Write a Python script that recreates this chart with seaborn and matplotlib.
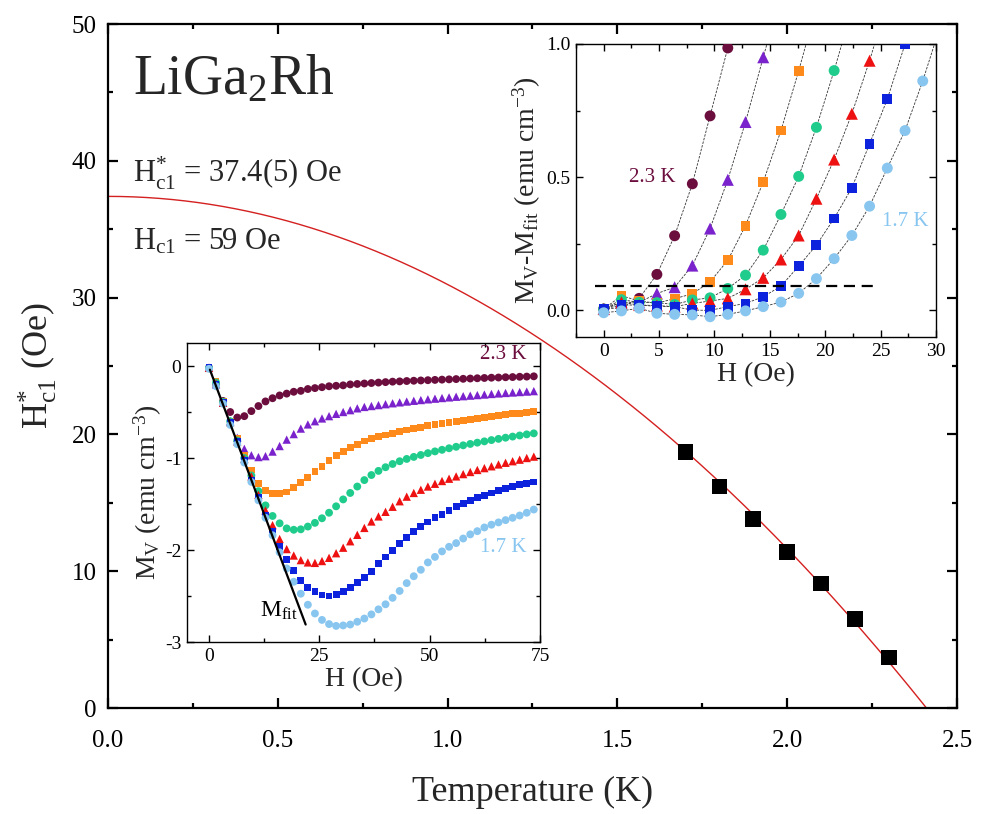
import matplotlib
matplotlib.use("Agg")
import matplotlib.pyplot as plt
import numpy as np
import pandas as pd
import seaborn as sns
from matplotlib.ticker import MultipleLocator, FormatStrFormatter

# ---------------- main panel data ----------------
T_K = [1.7, 1.8, 1.9, 2.0, 2.1, 2.2, 2.3]
HC1_STAR = [18.7, 16.2, 13.8, 11.4, 9.1, 6.5, 3.7]
FIT_HC1_0 = 37.4   # Oe, fit parameter H*c1(0)
FIT_TC = 2.41      # K, fit parameter

# ---------------- inset data (M_V vs H) ----------------
H_FIELD = [0.0, 1.6, 3.2, 4.8, 6.4, 8.0, 9.6, 11.2, 12.8, 14.4, 16.0, 17.6, 19.2, 20.8,
           22.4, 24.0, 25.6, 27.2, 28.8, 30.4, 32.0, 33.6, 35.2, 36.8, 38.4, 40.0, 41.6,
           43.2, 44.8, 46.4, 48.0, 49.6, 51.2, 52.8, 54.4, 56.0, 57.6, 59.2, 60.8, 62.4,
           64.0, 65.6, 67.2, 68.8, 70.4, 72.0, 73.6]

MV_23 = [-0.02, -0.21, -0.38, -0.50, -0.56, -0.545, -0.49, -0.435, -0.385, -0.35, -0.32, -0.30,
         -0.28, -0.27, -0.25, -0.24, -0.23, -0.22, -0.215, -0.21, -0.20, -0.195, -0.19,
         -0.185, -0.18, -0.175, -0.17, -0.167, -0.163, -0.16, -0.157, -0.154, -0.151, -0.148,
         -0.145, -0.142, -0.139, -0.136, -0.133, -0.13, -0.127, -0.125, -0.122, -0.12, -0.117,
         -0.115, -0.112]
MV_22 = [-0.02, -0.20, -0.40, -0.60, -0.78, -0.90, -0.97, -0.99, -0.98, -0.93, -0.87, -0.80,
         -0.74, -0.68, -0.635, -0.60, -0.57, -0.545, -0.52, -0.50, -0.48, -0.46, -0.445,
         -0.435, -0.425, -0.415, -0.405, -0.395, -0.386, -0.378, -0.37, -0.362, -0.355, -0.348,
         -0.341, -0.334, -0.328, -0.322, -0.316, -0.31, -0.304, -0.298, -0.293, -0.288, -0.283,
         -0.278, -0.273]
MV_21 = [-0.02, -0.17, -0.39, -0.60, -0.79, -0.97, -1.13, -1.28, -1.35, -1.39, -1.39, -1.37,
         -1.32, -1.27, -1.21, -1.15, -1.09, -1.03, -0.975, -0.93, -0.885, -0.85, -0.815,
         -0.79, -0.77, -0.75, -0.73, -0.71, -0.695, -0.68, -0.665, -0.65, -0.637, -0.624,
         -0.612, -0.6, -0.589, -0.578, -0.567, -0.557, -0.547, -0.538, -0.529, -0.52, -0.512,
         -0.504, -0.496]
MV_20 = [-0.02, -0.18, -0.39, -0.60, -0.81, -1.00, -1.19, -1.36, -1.515, -1.63, -1.71, -1.765,
         -1.78, -1.775, -1.745, -1.705, -1.655, -1.595, -1.525, -1.45, -1.38, -1.31, -1.24,
         -1.185, -1.14, -1.10, -1.065, -1.035, -1.01, -0.988, -0.967, -0.947, -0.928, -0.911,
         -0.894, -0.878, -0.862, -0.847, -0.833, -0.819, -0.805, -0.792, -0.779, -0.767, -0.755,
         -0.743, -0.732]
MV_19 = [-0.02, -0.19, -0.40, -0.61, -0.82, -1.01, -1.20, -1.40, -1.57, -1.73, -1.88, -1.99,
         -2.06, -2.11, -2.135, -2.14, -2.12, -2.085, -2.035, -1.975, -1.905, -1.835, -1.76,
         -1.69, -1.635, -1.585, -1.53, -1.47, -1.42, -1.38, -1.345, -1.31, -1.28, -1.25,
         -1.225, -1.2, -1.175, -1.152, -1.13, -1.11, -1.09, -1.07, -1.052, -1.035, -1.018,
         -1.0, -0.985]
MV_18 = [-0.02, -0.20, -0.40, -0.61, -0.82, -1.03, -1.24, -1.43, -1.62, -1.80, -1.965, -2.10,
         -2.225, -2.33, -2.41, -2.455, -2.49, -2.50, -2.485, -2.45, -2.41, -2.355, -2.295,
         -2.23, -2.15, -2.075, -2.005, -1.93, -1.86, -1.80, -1.745, -1.695, -1.65, -1.61,
         -1.57, -1.53, -1.495, -1.46, -1.43, -1.405, -1.38, -1.355, -1.33, -1.31, -1.29,
         -1.275, -1.26]
MV_17 = [-0.03, -0.22, -0.41, -0.64, -0.85, -1.05, -1.26, -1.46, -1.65, -1.84, -2.025, -2.20,
         -2.345, -2.475, -2.595, -2.69, -2.76, -2.805, -2.825, -2.82, -2.81, -2.78, -2.745,
         -2.70, -2.645, -2.59, -2.52, -2.445, -2.36, -2.285, -2.215, -2.135, -2.075, -2.015,
         -1.965, -1.925, -1.875, -1.83, -1.795, -1.755, -1.725, -1.70, -1.675, -1.65, -1.625,
         -1.595, -1.56]

MFIT_H = [0.2, 21.9]
MFIT_M = [-0.04, -2.81]

# ---------------- inset data (M_V - M_fit vs H), uses leading part of H_FIELD ----------------
D_23 = [0.005, 0.01, 0.045, 0.135, 0.28, 0.475, 0.73, 0.985, 1.26]
D_22 = [0.005, 0.03, 0.03, 0.063, 0.087, 0.168, 0.307, 0.49, 0.707, 0.95, 1.19]
D_21 = [0.005, 0.055, 0.035, 0.027, 0.044, 0.062, 0.107, 0.188, 0.318, 0.482, 0.675, 0.899, 1.14]
D_20 = [0.005, 0.04, 0.03, 0.029, 0.022, 0.039, 0.047, 0.082, 0.132, 0.226, 0.36, 0.503, 0.687,
        0.90, 1.13]
D_19 = [0.005, 0.03, 0.02, 0.018, 0.014, 0.026, 0.035, 0.045, 0.079, 0.122, 0.191, 0.281, 0.419,
        0.566, 0.738, 0.937, 1.16]
D_18 = [0.005, 0.02, 0.02, 0.015, 0.014, 0.001, 0.0, 0.014, 0.026, 0.051, 0.091, 0.166, 0.245,
        0.345, 0.46, 0.625, 0.793, 0.999, 1.20]
D_17 = [-0.009, -0.002, 0.008, -0.011, -0.015, -0.017, -0.024, -0.015, -0.002, 0.014, 0.031,
        0.064, 0.119, 0.194, 0.281, 0.391, 0.534, 0.675, 0.861, 1.07]
THRESH_H = [-0.8, 24.4]
THRESH_D = [0.09, 0.09]

TEMP_LABELS = ["2.3 K", "2.2 K", "2.1 K", "2.0 K", "1.9 K", "1.8 K", "1.7 K"]
COLORS = ["#6b0d3d", "#7a22cc", "#ff8a1c", "#1fcc8c", "#ee1111", "#0c22dc", "#88c6f0"]
MARKERS = ["o", "^", "s", "o", "^", "s", "o"]
MV_ALL = [MV_23, MV_22, MV_21, MV_20, MV_19, MV_18, MV_17]
D_ALL = [D_23, D_22, D_21, D_20, D_19, D_18, D_17]

# ---------------- style ----------------
sns.set_theme(style="ticks")
plt.rcParams.update({
    "font.family": ["Liberation Serif", "DejaVu Serif"],
    "mathtext.fontset": "custom",
    "mathtext.rm": "Liberation Serif",
    "mathtext.it": "Liberation Serif:italic",
    "mathtext.bf": "Liberation Serif:bold",
    "mathtext.default": "regular",
    "axes.unicode_minus": False,
    "axes.edgecolor": "black",
    "xtick.color": "black",
    "ytick.color": "black",
})


def style_ticks(ax, size, major_len, minor_len, width, xpad=4, ypad=4):
    ax.tick_params(which="both", direction="in", top=True, right=True, width=width,
                   labelsize=size, colors="black")
    ax.tick_params(which="major", length=major_len)
    ax.tick_params(which="minor", length=minor_len)
    ax.tick_params(axis="x", which="both", pad=xpad)
    ax.tick_params(axis="y", which="both", pad=ypad)
    for s in ax.spines.values():
        s.set_linewidth(width)
        s.set_color("black")


fig = plt.figure(figsize=(9.85, 8.14), dpi=100)

# ---------------- main axes ----------------
ax = fig.add_axes([0.1096, 0.1302, 0.862, 0.8403])
T_fit = np.linspace(0.0, 2.5, 400)
H_fit = FIT_HC1_0 * (1.0 - (T_fit / FIT_TC) ** 2)
sns.lineplot(x=T_fit, y=H_fit, ax=ax, color="#d42020", linewidth=1.0, zorder=2)
sns.scatterplot(x=T_K, y=HC1_STAR, ax=ax, marker="s", s=125, color="black",
                edgecolor="none", zorder=3, legend=False)
ax.set_xlim(0, 2.5)
ax.set_ylim(0, 50)
ax.xaxis.set_major_locator(MultipleLocator(0.5))
ax.xaxis.set_minor_locator(MultipleLocator(0.25))
ax.yaxis.set_major_locator(MultipleLocator(10))
ax.yaxis.set_minor_locator(MultipleLocator(5))
ax.xaxis.set_major_formatter(FormatStrFormatter("%.1f"))
style_ticks(ax, 18, 7, 3.5, 1.6, xpad=16, ypad=8)
ax.set_xlabel("Temperature (K)", fontsize=26, labelpad=17)
ax.set_ylabel(r"$H^{*}_{c1}$ (Oe)", fontsize=26, labelpad=9)

ax.text(0.074, 44.9, r"LiGa$_2$Rh", fontsize=40, ha="left", va="baseline")
ax.text(0.074, 38.45, r"$H^{*}_{c1}$ = 37.4(5) Oe", fontsize=22, ha="left", va="baseline")
ax.text(0.074, 33.5, r"$H_{c1}$ = 59 Oe", fontsize=22, ha="left", va="baseline")

# ---------------- inset 1: M_V vs H ----------------
ax1 = fig.add_axes([0.1898, 0.2113, 0.3584, 0.3673])
sns.lineplot(x=MFIT_H, y=MFIT_M, ax=ax1, color="black", linewidth=1.6, zorder=4)
for mv, c, m in zip(MV_ALL, COLORS, MARKERS):
    sz = {"o": 32, "s": 24, "^": 36}[m]
    sns.scatterplot(x=H_FIELD, y=mv, ax=ax1, marker=m, s=sz, color=c, edgecolor="none",
                    zorder=3, legend=False)
ax1.set_xlim(-5, 75)
ax1.set_ylim(-3, 0.25)
ax1.xaxis.set_major_locator(MultipleLocator(25))
ax1.xaxis.set_minor_locator(MultipleLocator(12.5))
ax1.yaxis.set_major_locator(MultipleLocator(1))
ax1.yaxis.set_minor_locator(MultipleLocator(0.5))
style_ticks(ax1, 14, 5, 3, 1.0)
ax1.set_xlabel("H (Oe)", fontsize=20, labelpad=2)
ax1.set_ylabel(r"$M_V$ (emu cm$^{-3}$)", fontsize=20, labelpad=1)
ax1.text(72, 0.12, "2.3 K", color=COLORS[0], fontsize=15, ha="right", va="center")
ax1.text(72, -1.97, "1.7 K", color=COLORS[6], fontsize=15, ha="right", va="center")
ax1.text(11.5, -2.66, r"$M_{fit}$", color="black", fontsize=17, ha="left", va="center")

# ---------------- inset 2: M_V - M_fit vs H ----------------
ax2 = fig.add_axes([0.5848, 0.586, 0.3655, 0.36])
for d, c, m in zip(D_ALL, COLORS, MARKERS):
    hh = H_FIELD[:len(d)]
    sns.lineplot(x=hh, y=d, ax=ax2, color="#333333", linewidth=0.6, linestyle=(0, (3, 1.5)),
                 zorder=2)
    sz = {"o": 62, "s": 50, "^": 75}[m]
    sns.scatterplot(x=hh, y=d, ax=ax2, marker=m, s=sz, color=c, edgecolor="none",
                    zorder=3, legend=False)
sns.lineplot(x=THRESH_H, y=THRESH_D, ax=ax2, color="black", linewidth=1.6,
             linestyle=(0, (5, 3)), zorder=4)
ax2.set_xlim(-2.5, 30)
ax2.set_ylim(-0.1, 1.0)
ax2.xaxis.set_major_locator(MultipleLocator(5))
ax2.xaxis.set_minor_locator(MultipleLocator(2.5))
ax2.yaxis.set_major_locator(MultipleLocator(0.5))
ax2.yaxis.set_minor_locator(MultipleLocator(0.25))
ax2.yaxis.set_major_formatter(FormatStrFormatter("%.1f"))
style_ticks(ax2, 14, 5, 3, 1.0)
ax2.set_xlabel("H (Oe)", fontsize=20, labelpad=2)
ax2.set_ylabel(r"$M_V$-$M_{fit}$ (emu cm$^{-3}$)", fontsize=20, labelpad=2)
ax2.text(2.3, 0.50, "2.3 K", color=COLORS[0], fontsize=15, ha="left", va="center")
ax2.text(29.3, 0.333, "1.7 K", color=COLORS[6], fontsize=15, ha="right", va="center")

fig.savefig("out.png", dpi=100)
